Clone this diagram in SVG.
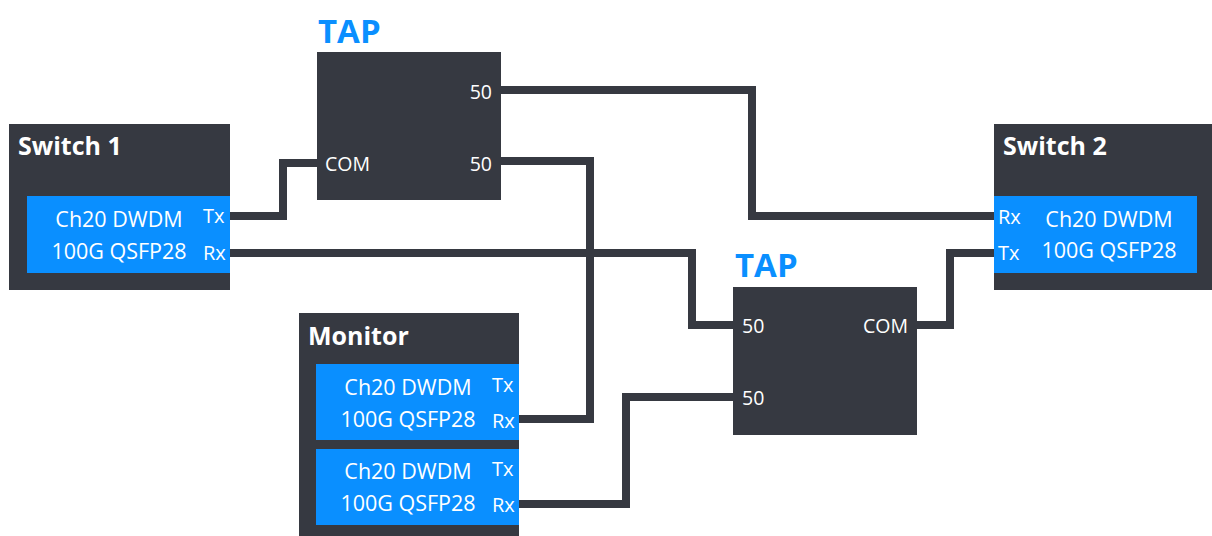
<svg xmlns="http://www.w3.org/2000/svg" width="1212" height="536" viewBox="0 0 1212 536">
<style>
.box{fill:#363941}
.port{fill:#0a8fff}
.t{font-family:"Open Sans","Noto Sans",sans-serif;fill:#fff}
.title{font-weight:bold;font-size:25px}
.tap{font-family:"Open Sans","Noto Sans",sans-serif;font-weight:bold;font-size:33px;fill:#0a8fff}
.mod{font-size:21.5px}
.pl{font-size:20px}
.lbl{font-size:19.5px}
.wire{fill:none;stroke:#363941;stroke-width:8}
</style>
<rect width="1212" height="536" fill="#fff"/>
<g id="connectors">
<path class="wire" d="M230,216 H283 V163 H318"/>
<path class="wire" d="M230,253 H692 V325 H734"/>
<path class="wire" d="M500,90 H752 V216 H995"/>
<path class="wire" d="M500,161 H590 V419 H518"/>
<path class="wire" d="M916,325 H950 V253 H995"/>
<path class="wire" d="M734,397 H626 V504 H518"/>
</g>
<g id="switch1">
<rect class="box" x="9" y="124" width="221" height="166"/>
<text class="t title" x="18" y="155">Switch 1</text>
<rect class="port" x="27" y="196" width="203" height="77"/>
<text class="t mod" x="119" y="227" text-anchor="middle">Ch20 DWDM</text>
<text class="t mod" x="119" y="259" text-anchor="middle">100G QSFP28</text>
<text class="t pl" x="203" y="223">Tx</text>
<text class="t pl" x="203" y="260">Rx</text>
</g>
<g id="tap1">
<text class="tap" x="318" y="43">TAP</text>
<rect class="box" x="317" y="52" width="184" height="148"/>
<text class="t lbl" x="492" y="99" text-anchor="end">50</text>
<text class="t lbl" x="325" y="171">COM</text>
<text class="t lbl" x="492" y="171" text-anchor="end">50</text>
</g>
<g id="tap2">
<text class="tap" x="735" y="277">TAP</text>
<rect class="box" x="733" y="287" width="184" height="148"/>
<text class="t lbl" x="742" y="333">50</text>
<text class="t lbl" x="908" y="333" text-anchor="end">COM</text>
<text class="t lbl" x="742" y="405">50</text>
</g>
<g id="switch2">
<rect class="box" x="994" y="124" width="218" height="166"/>
<text class="t title" x="1003" y="155">Switch 2</text>
<rect class="port" x="994" y="196" width="203" height="77"/>
<text class="t mod" x="1109" y="227" text-anchor="middle">Ch20 DWDM</text>
<text class="t mod" x="1109" y="258" text-anchor="middle">100G QSFP28</text>
<text class="t pl" x="998" y="224">Rx</text>
<text class="t pl" x="998" y="260">Tx</text>
</g>
<g id="monitor">
<rect class="box" x="299" y="313" width="220" height="223"/>
<text class="t title" x="308" y="345">Monitor</text>
<rect class="port" x="316" y="364" width="203" height="76"/>
<text class="t mod" x="408" y="395" text-anchor="middle">Ch20 DWDM</text>
<text class="t mod" x="408" y="427" text-anchor="middle">100G QSFP28</text>
<text class="t pl" x="492" y="392">Tx</text>
<text class="t pl" x="492" y="428">Rx</text>
<rect class="port" x="316" y="449" width="203" height="76"/>
<text class="t mod" x="408" y="479" text-anchor="middle">Ch20 DWDM</text>
<text class="t mod" x="408" y="511" text-anchor="middle">100G QSFP28</text>
<text class="t pl" x="492" y="476">Tx</text>
<text class="t pl" x="492" y="512">Rx</text>
</g>
</svg>
